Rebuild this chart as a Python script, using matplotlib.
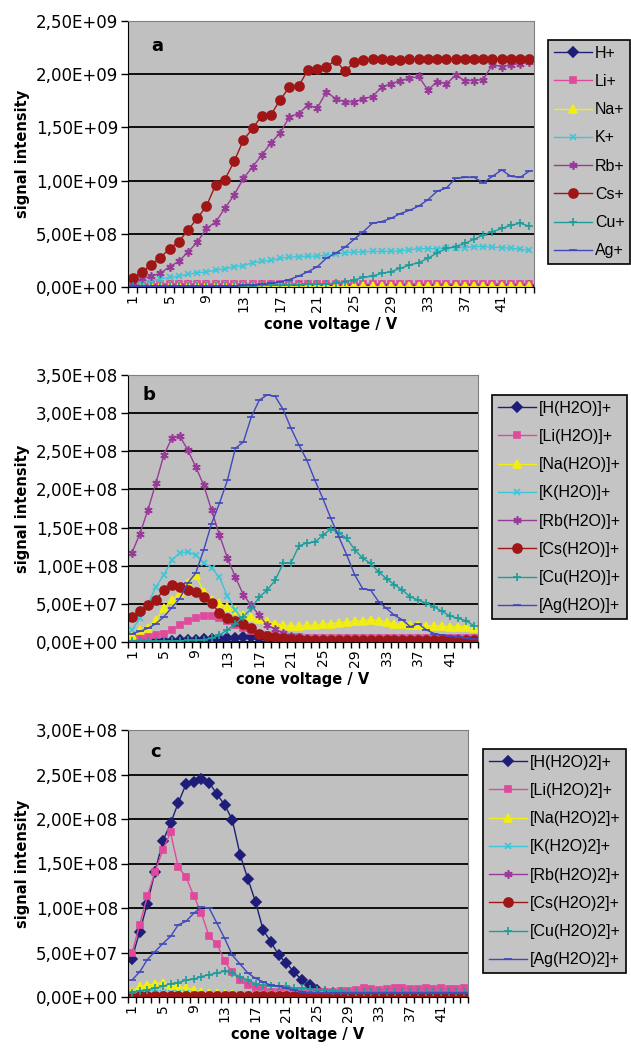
import numpy as np
import matplotlib
matplotlib.use('Agg')
import matplotlib.pyplot as plt

# ---------------------------------------------------------
# Data, x = cone voltage category 1..44
# ---------------------------------------------------------
volts = list(range(1, 45))
xtick_vals = [1, 5, 9, 13, 17, 21, 25, 29, 33, 37, 41]

# panel a, values in 1E9
h_a = [0.01, 0.01, 0.01, 0.01, 0.01, 0.01, 0.01, 0.01, 0.01, 0.01, 0.01,
       0.01, 0.01, 0.01, 0.01, 0.01, 0.01, 0.01, 0.01, 0.01, 0.01, 0.01,
       0.01, 0.01, 0.01, 0.01, 0.01, 0.01, 0.01, 0.01, 0.01, 0.01, 0.01,
       0.01, 0.01, 0.01, 0.01, 0.01, 0.01, 0.01, 0.01, 0.01, 0.01, 0.01]
li_a = [0.02, 0.025, 0.03, 0.03, 0.03, 0.03, 0.03, 0.03, 0.03, 0.03, 0.03,
        0.03, 0.03, 0.03, 0.03, 0.03, 0.03, 0.03, 0.03, 0.03, 0.03, 0.03,
        0.03, 0.03, 0.03, 0.03, 0.03, 0.03, 0.03, 0.03, 0.03, 0.03, 0.03,
        0.03, 0.03, 0.03, 0.03, 0.03, 0.03, 0.03, 0.03, 0.03, 0.03, 0.03]
na_a = [0.005, 0.005, 0.005, 0.005, 0.005, 0.005, 0.005, 0.005, 0.005, 0.005, 0.005,
        0.005, 0.005, 0.005, 0.005, 0.005, 0.005, 0.005, 0.005, 0.005, 0.005, 0.005,
        0.005, 0.005, 0.005, 0.005, 0.005, 0.005, 0.005, 0.005, 0.005, 0.005, 0.005,
        0.005, 0.005, 0.005, 0.005, 0.005, 0.005, 0.005, 0.005, 0.005, 0.005, 0.005]
k_a = [0.04, 0.05, 0.06, 0.075, 0.09, 0.10, 0.12, 0.135, 0.14, 0.16, 0.17,
       0.19, 0.20, 0.23, 0.24, 0.25, 0.27, 0.28, 0.285, 0.29, 0.29, 0.30,
       0.31, 0.32, 0.33, 0.33, 0.335, 0.335, 0.335, 0.34, 0.35, 0.36, 0.36,
       0.36, 0.365, 0.37, 0.37, 0.38, 0.38, 0.375, 0.37, 0.365, 0.355, 0.345]
rb_a = [0.04, 0.08, 0.10, 0.13, 0.19, 0.24, 0.33, 0.42, 0.55, 0.61, 0.74,
        0.865, 1.02, 1.13, 1.24, 1.355, 1.45, 1.60, 1.63, 1.71, 1.68, 1.835,
        1.77, 1.74, 1.74, 1.77, 1.79, 1.88, 1.91, 1.94, 1.96, 1.98, 1.85,
        1.93, 1.91, 1.99, 1.94, 1.94, 1.95, 2.09, 2.07, 2.09, 2.10, 2.11]
cs_a = [0.08, 0.14, 0.21, 0.275, 0.36, 0.425, 0.535, 0.645, 0.76, 0.96, 1.01,
        1.18, 1.38, 1.49, 1.61, 1.62, 1.76, 1.88, 1.89, 2.04, 2.05, 2.07,
        2.13, 2.03, 2.11, 2.13, 2.14, 2.14, 2.13, 2.13, 2.145, 2.145, 2.145,
        2.145, 2.145, 2.145, 2.145, 2.145, 2.145, 2.145, 2.145, 2.145, 2.145, 2.145]
cu_a = [0.005, 0.005, 0.005, 0.005, 0.005, 0.005, 0.005, 0.005, 0.01, 0.01, 0.01,
        0.01, 0.01, 0.01, 0.015, 0.015, 0.02, 0.02, 0.02, 0.025, 0.025, 0.03,
        0.035, 0.05, 0.066, 0.09, 0.103, 0.128, 0.144, 0.175, 0.207, 0.228, 0.27,
        0.32, 0.363, 0.38, 0.41, 0.448, 0.489, 0.52, 0.55, 0.58, 0.60, 0.57]
ag_a = [0.005, 0.005, 0.005, 0.005, 0.005, 0.005, 0.005, 0.005, 0.005, 0.005, 0.01,
        0.01, 0.015, 0.02, 0.025, 0.035, 0.05, 0.07, 0.103, 0.144, 0.19, 0.27,
        0.317, 0.373, 0.448, 0.52, 0.60, 0.615, 0.645, 0.69, 0.72, 0.76, 0.82,
        0.90, 0.93, 1.02, 1.03, 1.03, 0.98, 1.04, 1.10, 1.04, 1.03, 1.09]

# panel b, values in 1E8
h_b = [0.01, 0.01, 0.01, 0.01, 0.01, 0.015, 0.02, 0.025, 0.03, 0.035, 0.04,
       0.045, 0.05, 0.055, 0.06, 0.06, 0.055, 0.05, 0.045, 0.04, 0.035, 0.03,
       0.03, 0.03, 0.025, 0.025, 0.025, 0.025, 0.02, 0.02, 0.02, 0.02, 0.02,
       0.02, 0.02, 0.02, 0.02, 0.02, 0.02, 0.02, 0.02, 0.02, 0.02, 0.02]
li_b = [0.05, 0.05, 0.07, 0.09, 0.11, 0.16, 0.22, 0.28, 0.31, 0.34, 0.34,
        0.31, 0.27, 0.22, 0.18, 0.14, 0.11, 0.09, 0.08, 0.07, 0.06, 0.06,
        0.05, 0.05, 0.05, 0.05, 0.05, 0.05, 0.05, 0.05, 0.05, 0.05, 0.05,
        0.05, 0.05, 0.05, 0.05, 0.05, 0.05, 0.05, 0.05, 0.05, 0.05, 0.05]
na_b = [0.09, 0.16, 0.18, 0.29, 0.44, 0.55, 0.64, 0.77, 0.88, 0.66, 0.55,
        0.51, 0.46, 0.42, 0.35, 0.33, 0.30, 0.27, 0.24, 0.22, 0.21, 0.21,
        0.22, 0.22, 0.23, 0.24, 0.25, 0.26, 0.27, 0.28, 0.29, 0.28, 0.26,
        0.24, 0.23, 0.22, 0.22, 0.21, 0.21, 0.21, 0.20, 0.20, 0.20, 0.19]
k_b = [0.16, 0.31, 0.50, 0.72, 0.88, 1.07, 1.17, 1.18, 1.14, 1.04, 0.97,
       0.85, 0.60, 0.42, 0.28, 0.18, 0.11, 0.08, 0.07, 0.06, 0.05, 0.05,
       0.05, 0.04, 0.04, 0.04, 0.04, 0.04, 0.04, 0.04, 0.04, 0.04, 0.04,
       0.04, 0.04, 0.04, 0.04, 0.04, 0.04, 0.04, 0.04, 0.04, 0.04, 0.04]
rb_b = [1.17, 1.42, 1.73, 2.08, 2.45, 2.67, 2.70, 2.52, 2.30, 2.06, 1.73,
        1.40, 1.10, 0.85, 0.62, 0.48, 0.35, 0.22, 0.17, 0.12, 0.08, 0.06,
        0.05, 0.04, 0.04, 0.03, 0.03, 0.03, 0.03, 0.03, 0.03, 0.03, 0.03,
        0.03, 0.03, 0.03, 0.03, 0.03, 0.02, 0.02, 0.02, 0.02, 0.02, 0.02]
cs_b = [0.33, 0.40, 0.48, 0.55, 0.68, 0.75, 0.72, 0.68, 0.65, 0.59, 0.51,
        0.38, 0.31, 0.28, 0.24, 0.18, 0.11, 0.08, 0.07, 0.05, 0.04, 0.04,
        0.03, 0.03, 0.03, 0.03, 0.03, 0.03, 0.03, 0.03, 0.03, 0.03, 0.03,
        0.03, 0.03, 0.03, 0.03, 0.03, 0.03, 0.03, 0.03, 0.03, 0.03, 0.03]
cu_b = [0.01, 0.01, 0.01, 0.01, 0.01, 0.015, 0.015, 0.02, 0.02, 0.03, 0.05,
        0.09, 0.16, 0.24, 0.33, 0.44, 0.59, 0.68, 0.81, 1.03, 1.04, 1.26,
        1.30, 1.31, 1.40, 1.48, 1.43, 1.36, 1.21, 1.10, 1.03, 0.92, 0.83,
        0.75, 0.68, 0.59, 0.55, 0.51, 0.46, 0.40, 0.34, 0.31, 0.28, 0.21]
ag_b = [0.11, 0.14, 0.18, 0.24, 0.33, 0.45, 0.57, 0.77, 0.90, 1.20, 1.55,
        1.82, 2.12, 2.54, 2.62, 2.95, 3.17, 3.24, 3.22, 3.05, 2.80, 2.58,
        2.38, 2.12, 1.88, 1.62, 1.38, 1.14, 0.88, 0.70, 0.68, 0.53, 0.44,
        0.35, 0.29, 0.20, 0.24, 0.16, 0.11, 0.09, 0.08, 0.07, 0.05, 0.035]

# panel c, values in 1E8
h_c = [0.43, 0.73, 1.05, 1.41, 1.75, 1.95, 2.18, 2.39, 2.42, 2.45, 2.41,
       2.28, 2.16, 1.99, 1.60, 1.33, 1.07, 0.75, 0.62, 0.47, 0.38, 0.28,
       0.19, 0.13, 0.08, 0.05, 0.04, 0.03, 0.03, 0.03, 0.02, 0.02, 0.02,
       0.02, 0.02, 0.02, 0.02, 0.02, 0.02, 0.02, 0.02, 0.02, 0.02, 0.02]
li_c = [0.49, 0.81, 1.13, 1.41, 1.65, 1.85, 1.46, 1.35, 1.14, 0.94, 0.68,
        0.60, 0.40, 0.28, 0.19, 0.13, 0.10, 0.08, 0.06, 0.06, 0.05, 0.05,
        0.05, 0.05, 0.06, 0.06, 0.06, 0.07, 0.07, 0.08, 0.10, 0.09, 0.08,
        0.09, 0.10, 0.10, 0.09, 0.09, 0.10, 0.09, 0.10, 0.09, 0.09, 0.10]
na_c = [0.06, 0.12, 0.13, 0.15, 0.16, 0.13, 0.12, 0.10, 0.08, 0.06, 0.05,
        0.04, 0.03, 0.03, 0.02, 0.02, 0.02, 0.02, 0.02, 0.02, 0.02, 0.02,
        0.02, 0.02, 0.02, 0.02, 0.02, 0.02, 0.02, 0.02, 0.02, 0.02, 0.02,
        0.02, 0.02, 0.02, 0.02, 0.02, 0.02, 0.02, 0.02, 0.02, 0.02, 0.02]
k_c = [0.03, 0.03, 0.04, 0.04, 0.04, 0.04, 0.04, 0.04, 0.03, 0.03, 0.03,
       0.03, 0.03, 0.03, 0.03, 0.03, 0.03, 0.03, 0.03, 0.03, 0.03, 0.03,
       0.03, 0.03, 0.03, 0.03, 0.03, 0.03, 0.03, 0.03, 0.03, 0.03, 0.03,
       0.03, 0.03, 0.03, 0.03, 0.03, 0.03, 0.03, 0.03, 0.03, 0.03, 0.03]
rb_c = [0.02, 0.02, 0.02, 0.02, 0.02, 0.02, 0.02, 0.02, 0.02, 0.02, 0.02,
        0.02, 0.02, 0.02, 0.02, 0.02, 0.02, 0.02, 0.02, 0.02, 0.02, 0.02,
        0.02, 0.02, 0.02, 0.02, 0.02, 0.02, 0.02, 0.02, 0.02, 0.02, 0.02,
        0.02, 0.02, 0.02, 0.02, 0.02, 0.02, 0.02, 0.02, 0.02, 0.02, 0.02]
cs_c = [0.01, 0.01, 0.01, 0.01, 0.01, 0.01, 0.01, 0.01, 0.01, 0.01, 0.01,
        0.01, 0.01, 0.01, 0.01, 0.01, 0.01, 0.01, 0.01, 0.01, 0.01, 0.01,
        0.01, 0.01, 0.01, 0.01, 0.01, 0.01, 0.01, 0.01, 0.01, 0.01, 0.01,
        0.01, 0.01, 0.01, 0.01, 0.01, 0.01, 0.01, 0.01, 0.01, 0.01, 0.01]
cu_c = [0.05, 0.07, 0.08, 0.10, 0.12, 0.15, 0.16, 0.19, 0.20, 0.23, 0.25,
        0.27, 0.29, 0.27, 0.23, 0.19, 0.15, 0.13, 0.12, 0.12, 0.12, 0.10,
        0.10, 0.09, 0.08, 0.08, 0.07, 0.07, 0.06, 0.06, 0.06, 0.06, 0.06,
        0.06, 0.06, 0.06, 0.06, 0.06, 0.06, 0.06, 0.06, 0.06, 0.06, 0.06]
ag_c = [0.19, 0.28, 0.42, 0.51, 0.60, 0.68, 0.81, 0.85, 0.94, 1.01, 1.00,
        0.83, 0.66, 0.47, 0.37, 0.27, 0.21, 0.17, 0.13, 0.12, 0.10, 0.08,
        0.06, 0.05, 0.05, 0.04, 0.04, 0.04, 0.04, 0.04, 0.04, 0.04, 0.04,
        0.04, 0.04, 0.04, 0.04, 0.04, 0.04, 0.04, 0.04, 0.04, 0.04, 0.04]

labels_a = ['H+', 'Li+', 'Na+', 'K+', 'Rb+', 'Cs+', 'Cu+', 'Ag+']
labels_b = ['[H(H2O)]+', '[Li(H2O)]+', '[Na(H2O)]+', '[K(H2O)]+',
            '[Rb(H2O)]+', '[Cs(H2O)]+', '[Cu(H2O)]+', '[Ag(H2O)]+']
labels_c = ['[H(H2O)2]+', '[Li(H2O)2]+', '[Na(H2O)2]+', '[K(H2O)2]+',
            '[Rb(H2O)2]+', '[Cs(H2O)2]+', '[Cu(H2O)2]+', '[Ag(H2O)2]+']

yticks_a = [0, 0.5e9, 1.0e9, 1.5e9, 2.0e9, 2.5e9]
ylabels_a = ['0,00E+00', '5,00E+08', '1,00E+09', '1,50E+09', '2,00E+09', '2,50E+09']
yticks_b = [0, 0.5e8, 1.0e8, 1.5e8, 2.0e8, 2.5e8, 3.0e8, 3.5e8]
ylabels_b = ['0,00E+00', '5,00E+07', '1,00E+08', '1,50E+08', '2,00E+08',
             '2,50E+08', '3,00E+08', '3,50E+08']
yticks_c = [0, 0.5e8, 1.0e8, 1.5e8, 2.0e8, 2.5e8, 3.0e8]
ylabels_c = ['0,00E+00', '5,00E+07', '1,00E+08', '1,50E+08', '2,00E+08',
             '2,50E+08', '3,00E+08']

# ---------------------------------------------------------
# Styles (Excel-like)
# ---------------------------------------------------------
colors = ['#1e1e78', '#e04a9c', '#f2ee10', '#3cc6d8', '#983a98', '#a01616', '#1e9c9c', '#4048bc']
markers = ['D', 's', '^', 'x', (6, 2, 0), 'o', '+', '_']
msizes = [5, 5, 6, 5, 6, 6.5, 6, 6]

W, H = 631, 1055
fig = plt.figure(figsize=(W / 100, H / 100), dpi=100)


def rect(l, t, r, b):
    return [l / W, 1 - b / H, (r - l) / W, (b - t) / H]


panels = [
    dict(series=[h_a, li_a, na_a, k_a, rb_a, cs_a, cu_a, ag_a], scale=1e9,
         labels=labels_a, yt=yticks_a, yl=ylabels_a, letter='a',
         box=(128, 21, 534, 287), leg=(548, 40), lpos=(0.057, 0.905)),
    dict(series=[h_b, li_b, na_b, k_b, rb_b, cs_b, cu_b, ag_b], scale=1e8,
         labels=labels_b, yt=yticks_b, yl=ylabels_b, letter='b',
         box=(128, 375, 478, 642), leg=(492, 395), lpos=(0.04, 0.925)),
    dict(series=[h_c, li_c, na_c, k_c, rb_c, cs_c, cu_c, ag_c], scale=1e8,
         labels=labels_c, yt=yticks_c, yl=ylabels_c, letter='c',
         box=(128, 730, 468, 997), leg=(483, 749), lpos=(0.065, 0.918)),
]

for p in panels:
    left, top, right, bottom = p['box']
    ax = fig.add_axes(rect(*p['box']))
    ax.set_facecolor('#c0c0c0')
    ax.set_axisbelow(True)
    ax.yaxis.grid(True, color='black', linewidth=1.3)

    handles = []
    for vals, c, m, ms in zip(p['series'], colors, markers, msizes):
        y = np.array(vals) * p['scale']
        ln, = ax.plot(volts, y, color=c, lw=1.0, marker=m, markersize=ms,
                      markerfacecolor=c, markeredgecolor=c, markeredgewidth=1.2)
        handles.append(ln)

    ax.set_xlim(0.5, 44.5)
    ax.set_ylim(p['yt'][0], p['yt'][-1])
    ax.set_yticks(p['yt'])
    ax.set_yticklabels(p['yl'])
    ax.set_xticks(xtick_vals)
    ax.set_xticklabels([str(v) for v in xtick_vals], rotation=90)
    ax.set_xticks(np.arange(0.5, 45, 1), minor=True)
    ax.tick_params(axis='y', direction='out', length=5, width=1, labelsize=12, pad=2)
    ax.tick_params(axis='x', which='major', length=0, labelsize=10, pad=5)
    ax.tick_params(axis='x', which='minor', direction='out', length=4, width=1)

    for s in ['top', 'right']:
        ax.spines[s].set_color('#808080')
    for s in ['left', 'bottom']:
        ax.spines[s].set_color('black')

    ax.set_ylabel('signal intensity', fontsize=10.5, fontweight='bold')
    ax.yaxis.set_label_coords((30 - left) / (right - left), 0.5)
    ax.set_xlabel('cone voltage / V', fontsize=10.5, fontweight='bold', labelpad=4)

    ax.text(p['lpos'][0], p['lpos'][1], p['letter'], transform=ax.transAxes,
            fontsize=13, fontweight='bold', va='center', ha='left')

    leg = ax.legend(handles, p['labels'], loc='upper left',
                    bbox_to_anchor=(p['leg'][0] / W, 1 - p['leg'][1] / H),
                    bbox_transform=fig.transFigure, frameon=True, fancybox=False,
                    edgecolor='black', facecolor='#c4c4c4', framealpha=1,
                    prop={'family': 'Liberation Sans', 'size': 11.5},
                    labelspacing=0.83, handlelength=2.4,
                    handletextpad=0.2, borderpad=0.35, borderaxespad=0)
    leg.get_frame().set_linewidth(1.2)

fig.savefig('out.png', dpi=100)
